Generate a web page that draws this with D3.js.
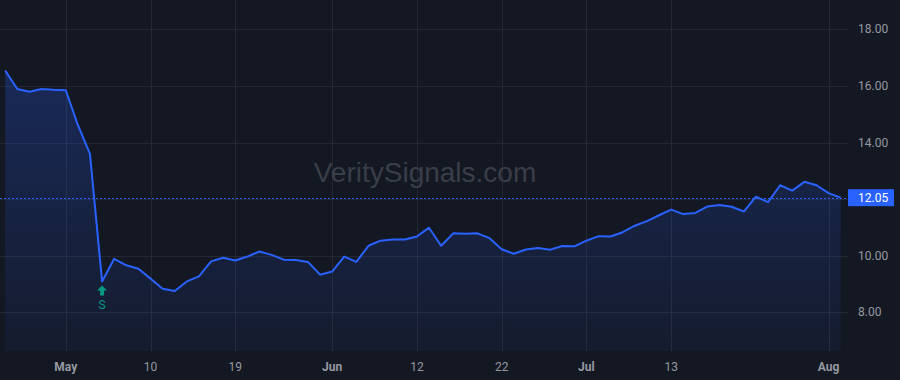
<!DOCTYPE html>
<html>
<head>
<meta charset="utf-8">
<script src="https://cdn.jsdelivr.net/npm/d3@7"></script>
<style>
  html, body { margin: 0; padding: 0; background: #141823; }
  svg { display: block; }
</style>
</head>
<body>
<svg width="900" height="380"></svg>
<script>
(function (d3) {

  // closing prices, one per trading day
  const prices = [
    16.54, 15.89, 15.79, 15.89, 15.86, 15.85, 14.62, 13.60, 9.09, 9.89,
    9.66, 9.54, 9.19, 8.83, 8.75, 9.09, 9.27, 9.80, 9.93, 9.83,
    9.97, 10.15, 10.03, 9.86, 9.85, 9.78, 9.33, 9.44, 9.97, 9.78,
    10.35, 10.53, 10.57, 10.57, 10.68, 10.99, 10.35, 10.79, 10.78, 10.79,
    10.62, 10.23, 10.07, 10.22, 10.27, 10.21, 10.34, 10.33, 10.53, 10.69,
    10.68, 10.83, 11.06, 11.22, 11.43, 11.63, 11.47, 11.51, 11.74, 11.79,
    11.73, 11.56, 12.09, 11.89, 12.49, 12.30, 12.61, 12.49, 12.21, 12.05
  ];

  const xTickIndex  = [5, 12, 19, 27, 34, 41, 48, 55, 68];
  const xTickLabels = ['May', '10', '19', 'Jun', '12', '22', 'Jul', '13', 'Aug'];
  const yTicks = [8, 10, 12, 14, 16, 18];

  const signalIndex = [8];
  const signalLabels = ['S'];

  const lastPrice = prices[prices.length - 1];

  const width = 900, height = 380;
  const plotRight = 848, plotBottom = 351;
  const font = 'Roboto, "Liberation Sans", sans-serif';

  const svg = d3.select('svg');

  const x = d3.scaleLinear()
    .domain([0, prices.length - 1])
    .range([5.2, 840.7]);

  const y = d3.scaleLinear()
    .domain([8, 18])
    .range([312.3, 29.3]);

  svg.append('rect')
    .attr('width', width)
    .attr('height', height)
    .attr('fill', '#141823');

  // grid
  const grid = svg.append('g');
  grid.selectAll('.hgrid')
    .data(yTicks)
    .enter().append('line')
      .attr('class', 'hgrid')
      .attr('x1', 0)
      .attr('x2', plotRight)
      .attr('y1', d => Math.round(y(d)) + 0.5)
      .attr('y2', d => Math.round(y(d)) + 0.5)
      .attr('stroke', '#242833');

  grid.selectAll('.vgrid')
    .data(xTickIndex)
    .enter().append('line')
      .attr('class', 'vgrid')
      .attr('x1', d => Math.round(x(d)) + 0.5)
      .attr('x2', d => Math.round(x(d)) + 0.5)
      .attr('y1', 0)
      .attr('y2', plotBottom)
      .attr('stroke', '#242833');

  // watermark
  svg.append('text')
    .attr('x', 425)
    .attr('y', 172)
    .attr('text-anchor', 'middle')
    .attr('dominant-baseline', 'central')
    .attr('font-family', '"Liberation Sans", Arial, sans-serif')
    .attr('font-size', 28)
    .attr('fill', '#3a3e49')
    .text('VeritySignals.com');

  // area gradient
  const defs = svg.append('defs');
  const grad = defs.append('linearGradient')
    .attr('id', 'areaFill')
    .attr('gradientUnits', 'userSpaceOnUse')
    .attr('x1', 0).attr('x2', 0)
    .attr('y1', y(d3.max(prices)))
    .attr('y2', plotBottom);
  grad.append('stop').attr('offset', 0).attr('stop-color', '#2962ff').attr('stop-opacity', 0.24);
  grad.append('stop').attr('offset', 1).attr('stop-color', '#2962ff').attr('stop-opacity', 0.05);

  const area = d3.area()
    .x((d, i) => x(i))
    .y0(plotBottom)
    .y1(d => y(d));

  const line = d3.line()
    .x((d, i) => x(i))
    .y(d => y(d));

  svg.append('path')
    .datum(prices)
    .attr('d', area)
    .attr('fill', 'url(#areaFill)');

  // last price dashed line
  svg.append('line')
    .attr('x1', 0)
    .attr('x2', plotRight)
    .attr('y1', Math.round(y(lastPrice)) + 0.5)
    .attr('y2', Math.round(y(lastPrice)) + 0.5)
    .attr('stroke', '#2962ff')
    .attr('stroke-dasharray', '2,2');

  svg.append('path')
    .datum(prices)
    .attr('d', line)
    .attr('fill', 'none')
    .attr('stroke', '#2962ff')
    .attr('stroke-width', 2)
    .attr('stroke-linejoin', 'round');

  // signal markers
  const sig = svg.selectAll('.signal')
    .data(signalIndex)
    .enter().append('g')
      .attr('class', 'signal')
      .attr('transform', d => `translate(${x(d)},${y(prices[d]) + 4})`);

  sig.append('path')
    .attr('d', 'M0,0 L5,5 L2,5 L2,10 L-2,10 L-2,5 L-5,5 Z')
    .attr('fill', '#089981');

  sig.append('text')
    .attr('y', 20)
    .attr('text-anchor', 'middle')
    .attr('dominant-baseline', 'central')
    .attr('font-family', font)
    .attr('font-size', 12)
    .attr('fill', '#089981')
    .text((d, i) => signalLabels[i]);

  // right axis
  svg.append('g')
    .selectAll('text')
    .data(yTicks)
    .enter().append('text')
      .attr('x', 858)
      .attr('y', d => y(d))
      .attr('dominant-baseline', 'central')
      .attr('font-family', font)
      .attr('font-size', 12)
      .attr('fill', '#9598a1')
      .text(d => d3.format('.2f')(d));

  // bottom axis
  svg.append('g')
    .selectAll('text')
    .data(xTickIndex)
    .enter().append('text')
      .attr('x', d => x(d))
      .attr('y', 367)
      .attr('text-anchor', 'middle')
      .attr('dominant-baseline', 'central')
      .attr('font-family', font)
      .attr('font-size', 12)
      .attr('font-weight', (d, i) => isNaN(+xTickLabels[i]) ? 'bold' : 'normal')
      .attr('fill', '#9598a1')
      .text((d, i) => xTickLabels[i]);

  // last price label
  const tag = svg.append('g')
    .attr('transform', `translate(848,${y(lastPrice)})`);
  tag.append('rect')
    .attr('x', 0)
    .attr('y', -8.5)
    .attr('width', 46)
    .attr('height', 17)
    .attr('fill', '#2962ff');
  tag.append('text')
    .attr('x', 10)
    .attr('dominant-baseline', 'central')
    .attr('font-family', font)
    .attr('font-size', 12)
    .attr('fill', '#ffffff')
    .text(d3.format('.2f')(lastPrice));

}(d3));
</script>
</body>
</html>
